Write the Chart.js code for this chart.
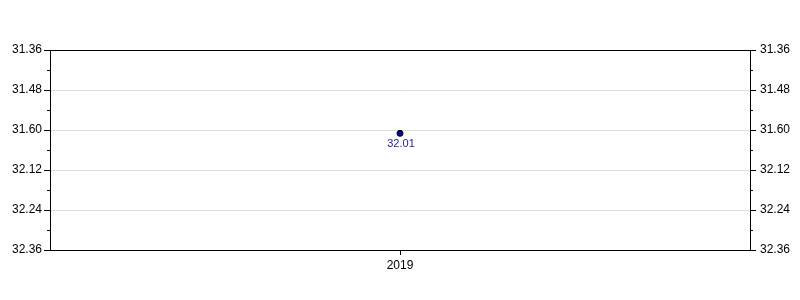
<!DOCTYPE html>
<html>
<head>
<meta charset="utf-8">
<script src="https://cdn.jsdelivr.net/npm/chart.js@4/dist/chart.umd.min.js"></script>
<style>
html,body{margin:0;padding:0;background:#fff;}
#wrap{width:800px;height:300px;}
</style>
</head>
<body>
<div id="wrap"><canvas id="c" width="800" height="300"></canvas></div>
<script>
const categories = ['2019'];
const seriesValues = [1921];           // seconds (32:01)
const pointLabels = ['32.01'];
const tickValues = [1896, 1908, 1920, 1932, 1944, 1956];
const tickLabels = ['31.36', '31.48', '31.60', '32.12', '32.24', '32.36'];
const yMin = 1896, yMax = 1956, majorStep = 12, minorStep = 6;

const FONT = '"Liberation Sans", Arial, sans-serif';

function labelFor(v) {
  const i = tickValues.indexOf(v);
  return i >= 0 ? tickLabels[i] : '';
}

const decorPlugin = {
  id: 'decor',
  afterDraw(chart) {
    const ctx = chart.ctx;
    const area = chart.chartArea;
    const y = chart.scales.y;
    const x = chart.scales.x;
    ctx.save();
    ctx.strokeStyle = '#000';
    ctx.lineWidth = 1;
    ctx.beginPath();
    ctx.moveTo(area.left, area.top + 0.5);
    ctx.lineTo(area.right, area.top + 0.5);
    ctx.stroke();
    y.ticks.forEach(t => {
      const py = Math.round(y.getPixelForValue(t.value)) + 0.5;
      const len = (t.value - yMin) % majorStep === 0 ? 6 : 3;
      ctx.beginPath();
      ctx.moveTo(area.left - len, py);
      ctx.lineTo(area.left, py);
      ctx.moveTo(area.right, py);
      ctx.lineTo(area.right + len, py);
      ctx.stroke();
    });
    categories.forEach((c, i) => {
      const px = Math.round(x.getPixelForValue(i)) + 0.5;
      ctx.beginPath();
      ctx.moveTo(px, area.bottom);
      ctx.lineTo(px, area.bottom + 5);
      ctx.stroke();
    });
    const meta = chart.getDatasetMeta(0);
    ctx.fillStyle = '#2222a8';
    ctx.font = '11px ' + FONT;
    ctx.textAlign = 'center';
    ctx.textBaseline = 'middle';
    meta.data.forEach((el, i) => {
      ctx.fillText(pointLabels[i], el.x + 1, el.y + 11);
    });
    ctx.restore();
  }
};

new Chart(document.getElementById('c'), {
  type: 'line',
  data: {
    labels: categories,
    datasets: [{
      data: seriesValues,
      showLine: false,
      pointRadius: 3,
      pointHoverRadius: 3,
      pointBackgroundColor: '#00009c',
      pointBorderColor: '#000000',
      pointBorderWidth: 1
    }]
  },
  options: {
    responsive: false,
    animation: false,
    events: [],
    layout: { padding: { top: 50, left: 0, right: 0, bottom: 0 } },
    plugins: { legend: { display: false }, tooltip: { enabled: false } },
    scales: {
      x: {
        offset: true,
        grid: { display: false, drawTicks: false },
        border: { display: true, color: '#000', width: 1 },
        ticks: { color: '#000', font: { family: FONT, size: 12 }, padding: 8 },
        afterFit(s) { s.height = 50; }
      },
      y: {
        position: 'left',
        reverse: true,
        min: yMin, max: yMax,
        afterBuildTicks(s) {
          const arr = [];
          for (let v = yMin; v <= yMax; v += minorStep) arr.push({ value: v });
          s.ticks = arr;
        },
        grid: {
          drawTicks: false,
          color: c => ((c.tick && (c.tick.value - yMin) % majorStep === 0) ? '#dcdcdc' : 'rgba(0,0,0,0)')
        },
        border: { display: true, color: '#000', width: 1 },
        ticks: {
          color: '#000', font: { family: FONT, size: 12 }, padding: 8,
          autoSkip: false,
          callback: v => labelFor(v)
        },
        afterFit(s) { s.width = 50; }
      },
      y2: {
        position: 'right',
        reverse: true,
        min: yMin, max: yMax,
        afterBuildTicks(s) {
          const arr = [];
          for (let v = yMin; v <= yMax; v += minorStep) arr.push({ value: v });
          s.ticks = arr;
        },
        grid: { display: false, drawTicks: false },
        border: { display: true, color: '#000', width: 1 },
        ticks: {
          color: '#000', font: { family: FONT, size: 12 }, padding: 10,
          autoSkip: false,
          callback: v => labelFor(v)
        },
        afterFit(s) { s.width = 50; }
      }
    }
  },
  plugins: [decorPlugin]
});
</script>
</body>
</html>
